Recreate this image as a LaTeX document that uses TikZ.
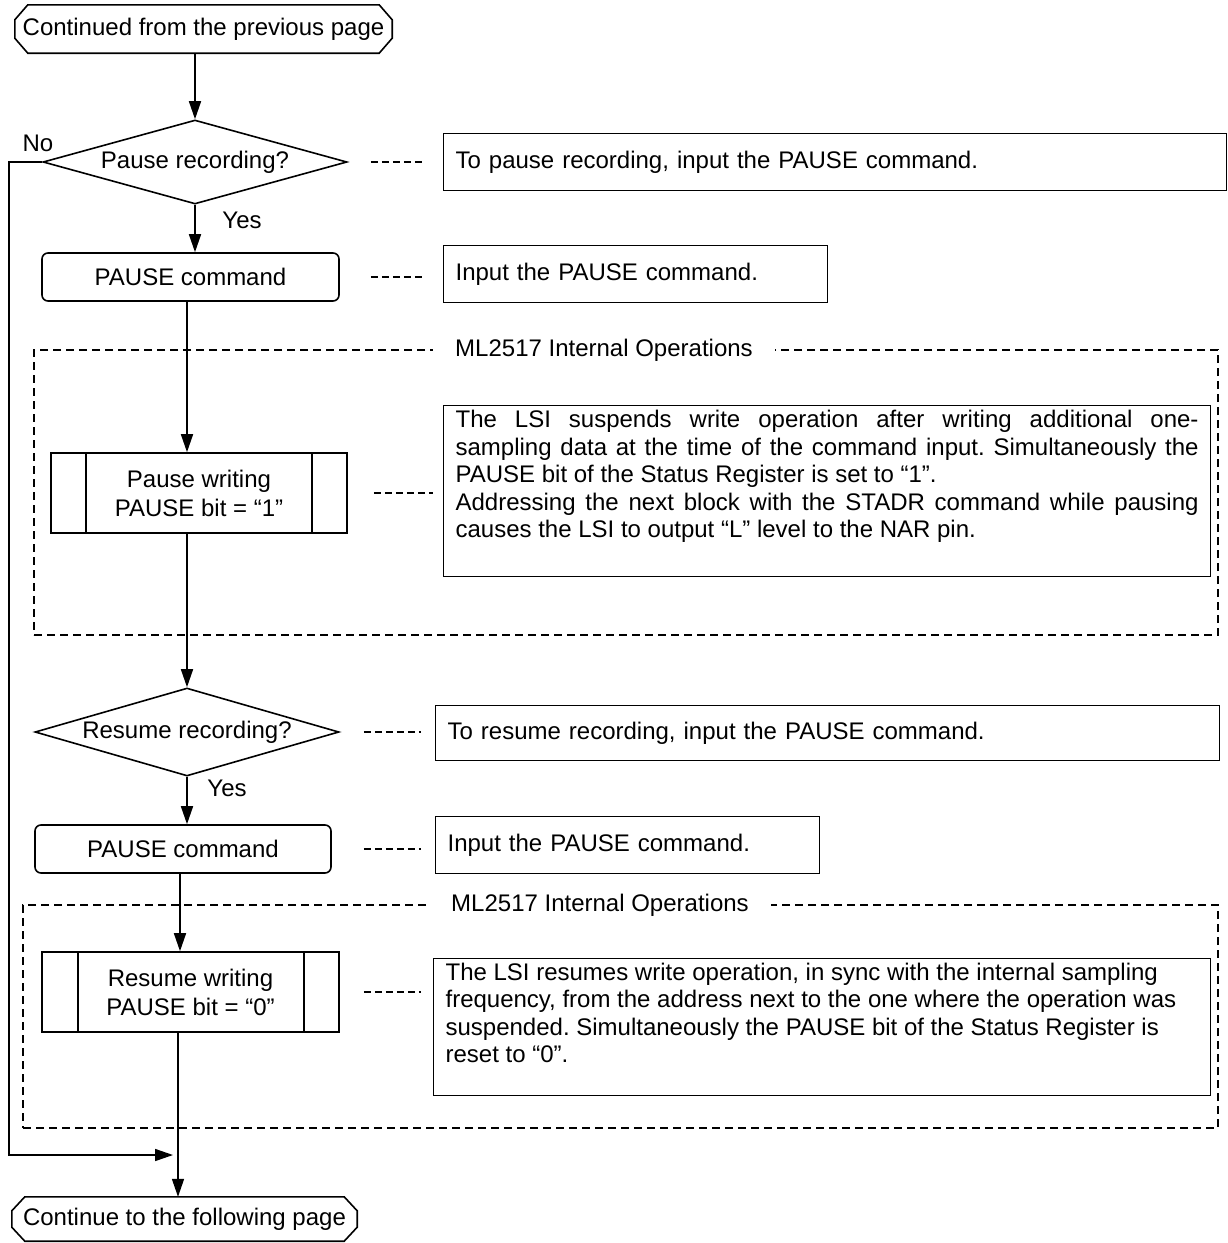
\documentclass[tikz,border=0pt]{standalone}
\usepackage{fontspec}
\setmainfont{Liberation Sans}
\usetikzlibrary{arrows.meta,shapes.geometric}
\newcommand\fsz{\fontsize{24}{27.5}\selectfont}
\newcommand\fszb{\fontsize{24}{29}\selectfont}
\frenchspacing
\begin{document}
\begin{tikzpicture}[x=1pt,y=-1pt,
  every node/.style={font=\fsz, inner sep=0pt},
  flow/.style={line width=1.6pt},
  arr/.style={flow,-{Triangle[length=18pt,width=12pt]}},
  decision/.style={diamond, draw, flow, shape aspect=3.6, minimum width=304pt},
  cmdbox/.style={draw, flow, rounded corners=6pt},
  procbox/.style={draw, flow, align=center, font=\fszb},
  note/.style={draw, line width=1.2pt, inner xsep=12pt, anchor=north west},
  dashlink/.style={line width=1.5pt, dash pattern=on 7pt off 4pt},
  frame/.style={draw, line width=1.5pt, dash pattern=on 8pt off 5pt},
  framelabel/.style={fill=white, inner xsep=22pt, inner ysep=3pt}
]
\useasboundingbox (0,0) rectangle (1227,1243);

% ---------- frames ----------
\node (frame1) [frame, minimum width=1184pt, minimum height=285pt] at (626,492.5) {};
\node (frame1lbl) [framelabel] at (604,350) {ML2517 Internal Operations};
\node (frame2) [frame, minimum width=1195pt, minimum height=223pt] at (620.5,1016.5) {};
\node (frame2lbl) [framelabel] at (600,905) {ML2517 Internal Operations};

% ---------- start terminal ----------
\node (start) [minimum width=377pt, minimum height=48pt] at (203.5,29) {Continued from the previous page};
\draw[flow] ([xshift=13pt]start.north west) -- ([xshift=-13pt]start.north east)
  -- ([yshift=-15pt]start.north east) -- ([yshift=15pt]start.south east)
  -- ([xshift=-13pt]start.south east) -- ([xshift=13pt]start.south west)
  -- ([yshift=15pt]start.south west) -- ([yshift=-15pt]start.north west) -- cycle;

% ---------- first part ----------
\node (d1) [decision, minimum height=84pt] at (195,162) {Pause recording?};
\node (no) at (38,143) {No};
\node (yes1) at (242,220) {Yes};
\node (b1) [cmdbox, minimum width=297pt, minimum height=48pt] at (190.5,277) {PAUSE command};

\node (n1) [note, minimum width=783pt, minimum height=57pt, text width=759pt, align=left] at (443,133) {To pause recording, input the PAUSE command.};
\node (n2) [note, minimum width=384pt, minimum height=57pt, text width=360pt, align=left] at (443,245) {Input the PAUSE command.};

\node (pw) [procbox, minimum width=296pt, minimum height=80pt] at (199,493) {Pause writing\\PAUSE bit = “1”};
\draw[flow] ([xshift=36pt]pw.north west) -- ([xshift=36pt]pw.south west);
\draw[flow] ([xshift=-36pt]pw.north east) -- ([xshift=-36pt]pw.south east);

\node (n3) [note, inner ysep=5pt] at (443,405) {\parbox[c][161pt][t]{743pt}{\fsz
\makebox[743pt][s]{The LSI suspends write operation after writing additional one-}\par
\makebox[743pt][s]{sampling data at the time of the command input. Simultaneously the}\par
PAUSE bit of the Status Register is set to “1”.\par
\makebox[743pt][s]{Addressing the next block with the STADR command while pausing}\par
causes the LSI to output “L” level to the NAR pin.}};

% ---------- second part ----------
\node (d2) [decision, minimum height=88pt] at (187,732) {Resume recording?};
\node (yes2) at (227,788) {Yes};
\node (b2) [cmdbox, minimum width=296pt, minimum height=48pt] at (183,849) {PAUSE command};

\node (n4) [note, minimum width=784pt, minimum height=55pt, text width=760pt, align=left] at (435,705) {To resume recording, input the PAUSE command.};
\node (n5) [note, minimum width=384pt, minimum height=57pt, text width=360pt, align=left] at (435,816) {Input the PAUSE command.};

\node (rw) [procbox, minimum width=297pt, minimum height=80pt] at (190.5,992) {Resume writing\\PAUSE bit = “0”};
\draw[flow] ([xshift=37pt]rw.north west) -- ([xshift=37pt]rw.south west);
\draw[flow] ([xshift=-36pt]rw.north east) -- ([xshift=-36pt]rw.south east);

\node (n6) [note, inner ysep=4pt] at (433,958) {\parbox[c][129pt][t]{753pt}{\fsz
The LSI resumes write operation, in sync with the internal sampling\par
frequency, from the address next to the one where the operation was\par
suspended. Simultaneously the PAUSE bit of the Status Register is\par
reset to “0”.}};

% ---------- end terminal ----------
\node (end) [minimum width=345pt, minimum height=44pt] at (184.5,1219) {Continue to the following page};
\draw[flow] ([xshift=13pt]end.north west) -- ([xshift=-13pt]end.north east)
  -- ([yshift=-14pt]end.north east) -- ([yshift=14pt]end.south east)
  -- ([xshift=-13pt]end.south east) -- ([xshift=13pt]end.south west)
  -- ([yshift=14pt]end.south west) -- ([yshift=-14pt]end.north west) -- cycle;

% ---------- connectors ----------
\coordinate (x1) at (187,0);
\coordinate (x2) at (180,0);
\coordinate (x3) at (178,0);
\draw[arr] (start.south -| d1.north) -- (d1.north);
\draw[arr] (d1.south) -- (d1.south |- b1.north);
\draw[arr] (b1.south -| x1) -- (pw.north -| x1);
\draw[arr] (pw.south -| d2.north) -- (d2.north);
\draw[arr] (d2.south) -- (d2.south |- b2.north);
\draw[arr] (b2.south -| x2) -- (rw.north -| x2);
\draw[arr] (rw.south -| x3) -- (end.north -| x3);

\coordinate (nocorner1) at (9,162);
\coordinate (nocorner2) at (9,1155);
\coordinate (noend) at (173,1155);
\draw[arr] (d1.west) -- (nocorner1) -- (nocorner2) -- (noend);

% ---------- dashed links to notes ----------
\draw[dashlink] ([xshift=23pt]d1.east) -- ([xshift=-21pt]d1.east -| n1.west);
\draw[dashlink] ([xshift=31pt]b1.east) -- ([xshift=-21pt]b1.east -| n2.west);
\draw[dashlink] ([xshift=26pt]pw.east) -- ([xshift=-10pt]pw.east -| n3.west);
\draw[dashlink] ([xshift=24pt]d2.east) -- ([xshift=-14pt]d2.east -| n4.west);
\draw[dashlink] ([xshift=32pt]b2.east) -- ([xshift=-14pt]b2.east -| n5.west);
\draw[dashlink] ([xshift=24pt]rw.east) -- ([xshift=-12pt]rw.east -| n6.west);
\end{tikzpicture}
\end{document}
